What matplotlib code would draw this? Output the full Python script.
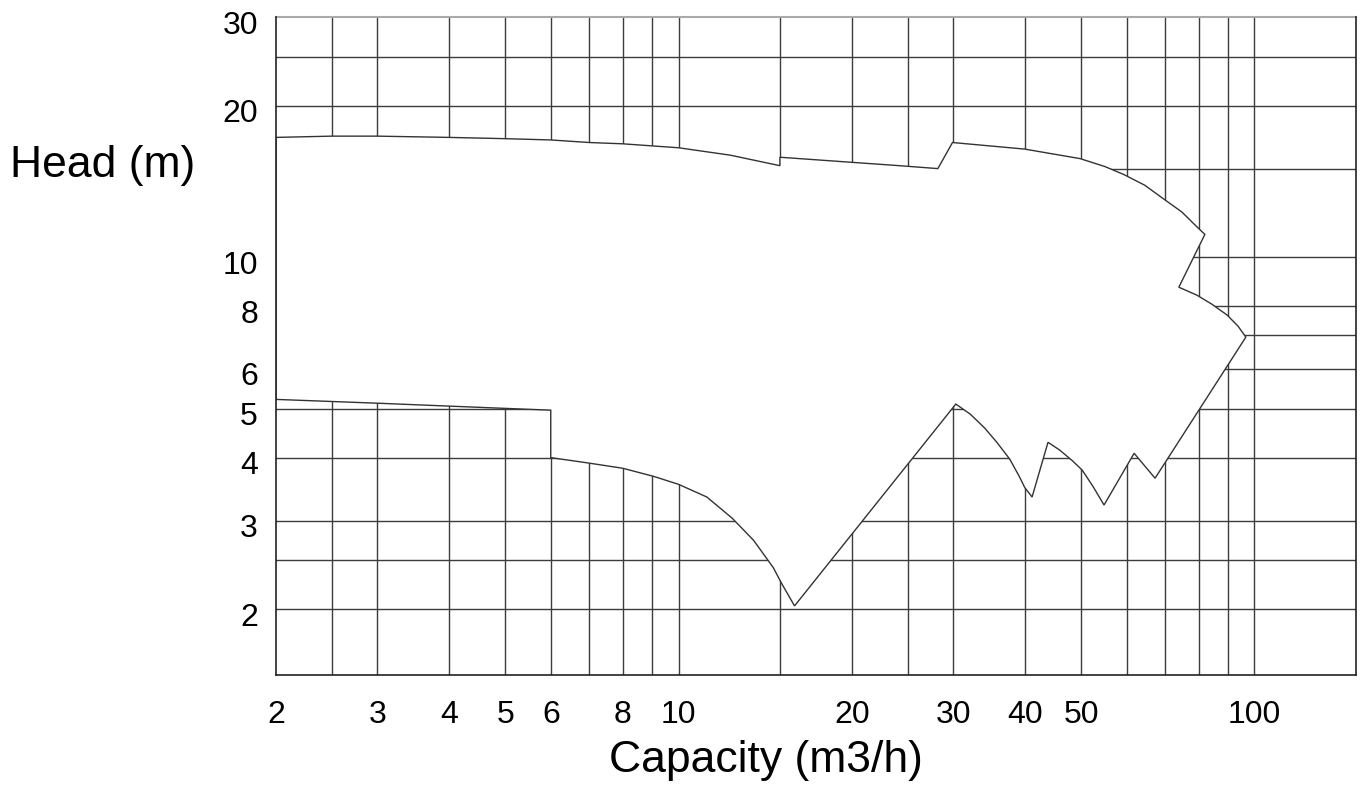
import numpy as np
import matplotlib
matplotlib.use('Agg')
import matplotlib.pyplot as plt
from matplotlib.transforms import ScaledTranslation

plt.rcParams['font.family'] = ['Liberation Sans', 'DejaVu Sans']

# Envelope of the pump range, traced clockwise from the top-left corner
# upper edge (Q in m3/h, H in m)
upper_q = [2.0, 2.5, 3.0, 4.0, 5.0, 6.0, 7.0, 8.0, 10.0, 12.3, 15.0,
           15.0, 24.2, 28.2, 29.9, 39.9, 49.8, 55.0, 59.3, 64.5, 69.9, 74.8,
           79.4, 82.0,
           73.9, 79.4, 84.3, 89.6, 93.6, 96.6]
upper_h = [17.3, 17.4, 17.4, 17.3, 17.2, 17.1, 16.9, 16.8, 16.5, 15.95, 15.2,
           15.8, 15.2, 15.0, 16.9, 16.4, 15.7, 15.14, 14.6, 13.9, 13.0, 12.3,
           11.5, 11.1,
           8.72, 8.41, 8.07, 7.68, 7.30, 6.94]
# lower edge, right to left
lower_q = [67.2, 61.8, 54.8, 52.4, 50.2, 48.2, 45.9, 43.8, 41.1, 39.9, 39.1,
           37.6, 35.7, 34.0, 32.1, 30.3,
           15.9, 15.1, 14.6, 13.5, 12.4, 11.2, 10.0, 9.06, 8.0, 7.0, 6.0,
           6.0, 5.0, 3.0, 2.0]
lower_h = [3.64, 4.08, 3.22, 3.51, 3.78, 3.95, 4.14, 4.29, 3.34, 3.49, 3.66,
           3.97, 4.29, 4.58, 4.88, 5.11,
           2.03, 2.25, 2.42, 2.74, 3.03, 3.34, 3.54, 3.67, 3.81, 3.90, 4.0,
           4.97, 5.01, 5.13, 5.22]

grid_q = [2.5, 3, 4, 5, 6, 7, 8, 9, 10, 15, 20, 25, 30, 40, 50, 60, 70, 80, 90, 100]
grid_h = [2, 2.5, 3, 4, 5, 6, 7, 8, 10, 15, 20, 25]

xtick_vals = [2, 3, 4, 5, 6, 8, 10, 20, 30, 40, 50, 100]
ytick_vals = [2, 3, 4, 5, 6, 8, 10, 20, 30]

fig = plt.figure(figsize=(13.6, 7.96), dpi=100)
ax = fig.add_axes([0.2029, 0.152, 0.7941, 0.8266])
ax.set_xscale('log')
ax.set_yscale('log')
ax.set_xlim(2, 150)
ax.set_ylim(1.48, 30)

# grid drawn by hand so the envelope can cover it
for q in grid_q:
    ax.axvline(q, color='#3c3c3c', lw=1.0, zorder=1)
for h in grid_h:
    ax.axhline(h, color='#3c3c3c', lw=1.0, zorder=1)

env_q = upper_q + lower_q
env_h = upper_h + lower_h
ax.fill(env_q, env_h, facecolor='white', edgecolor='#333333', lw=1.0, zorder=2)

ax.set_xticks(xtick_vals)
ax.set_xticklabels([str(v) for v in xtick_vals])
ax.set_yticks(ytick_vals)
ax.set_yticklabels([str(v) for v in ytick_vals])
ax.minorticks_off()
ax.tick_params(axis='x', length=0, pad=18, labelsize=23)
ax.tick_params(axis='y', length=0, pad=13, labelsize=23)
shift = ScaledTranslation(0, -0.05, fig.dpi_scale_trans)
for lab in ax.get_yticklabels():
    lab.set_transform(lab.get_transform() + shift)

for side in ['left', 'bottom', 'right']:
    ax.spines[side].set_color('#222222')
    ax.spines[side].set_linewidth(1.2)
    ax.spines[side].set_zorder(3)
ax.spines['top'].set_color('#aaaaaa')
ax.spines['top'].set_linewidth(1.5)

fig.text(0.0074, 0.7776, 'Head (m)', fontsize=32, ha='left', va='baseline')
fig.text(0.563, 0.030, 'Capacity (m3/h)', fontsize=32, ha='center', va='baseline')

fig.savefig('out.png', dpi=100)
